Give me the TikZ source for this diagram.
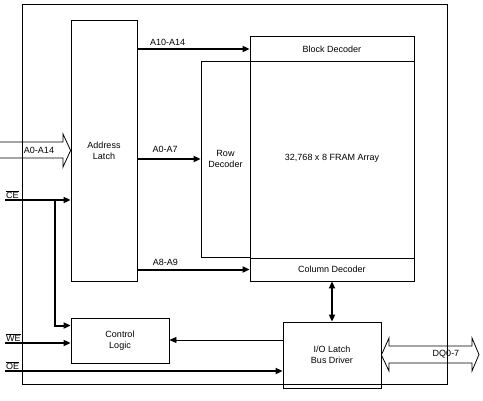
\documentclass[tikz,border=0pt]{standalone}
\usepackage{fontspec}
\setmainfont{Liberation Sans}
\usetikzlibrary{arrows.meta}

\begin{document}
\begin{tikzpicture}[x=1pt,y=-1pt,
    block/.style={draw, line width=0.8pt, inner sep=0pt, align=center, font=\fontsize{9}{11}\selectfont},
    bus/.style={line width=2pt, -{Triangle[length=7pt,width=6pt]}},
    sig/.style={line width=0.8pt, -{Triangle[length=7pt,width=6pt]}},
    lbl/.style={font=\fontsize{9}{11}\selectfont, inner sep=1pt}]
    \useasboundingbox (0,0) rectangle (483,400);

    % Draw the chip outline
    \node[draw, line width=0.8pt, minimum width=425pt, minimum height=380pt] (chip) at (234.5,194) {};

    % Draw the blocks
    \node[block, minimum width=66pt, minimum height=261pt] (latch) at (104,150.5) {Address\\Latch};
    \node[block, minimum width=49pt, minimum height=196pt] (row) at (225.5,159) {Row\\Decoder};
    \node[block, minimum width=164pt, minimum height=245pt] (array) at (332,158.5) {32,768 x 8 FRAM Array};
    \node[block, minimum width=164pt, minimum height=25pt] (blockdec) at (332,49) {Block Decoder};
    \node[block, minimum width=164pt, minimum height=23pt] (coldec) at (332,269.5) {Column Decoder};
    \node[block, minimum width=98pt, minimum height=45pt] (ctrl) at (120,340.5) {Control\\Logic};
    \node[block, minimum width=98pt, minimum height=66pt] (io) at (332,355) {I/O Latch\\Bus Driver};

    % Draw the address buses
    \draw[line width=0.8pt] (0,142) -- (63,142) -- (63,134) -- (latch.west) -- (63,167) -- (63,158) -- (0,158);
    \node[lbl] (addrlbl) at (39,150.5) {A0-A14};
    \draw[bus] (latch.east |- blockdec) -- (blockdec.west) node[lbl, above=1pt, pos=0.27] {A10-A14};
    \draw[bus] (latch.east |- row) -- (row.west) node[lbl, above=4pt, pos=0.44] {A0-A7};
    \draw[bus] (latch.east |- coldec) -- (coldec.west) node[lbl, above=2pt, pos=0.25] {A8-A9};

    % Draw the control inputs
    \coordinate (ce) at (5,200);
    \coordinate (cebr) at (55,200);
    \coordinate (we) at (5,343);
    \coordinate (oe) at (5,371);
    \coordinate (cectl) at ([yshift=15pt]ctrl.west);
    \coordinate (iofb) at ([yshift=15pt]io.west);
    \draw[bus] (ce) -- (ce -| latch.west);
    \draw[bus] (cebr) |- (cectl);
    \draw[bus] (we) -- (we -| ctrl.west);
    \draw[bus] (oe) -- (oe -| io.west);
    \node[lbl, anchor=south west] (celbl) at (ce) {$\overline{\mbox{CE}}$};
    \node[lbl, anchor=south west] (welbl) at (we) {$\overline{\mbox{WE}}$};
    \node[lbl, anchor=south west] (oelbl) at (oe) {$\overline{\mbox{OE}}$};
    \draw[sig] (iofb) -- (iofb -| ctrl.east);

    % Draw the data path
    \draw[bus, {Triangle[length=7pt,width=6pt]}-{Triangle[length=7pt,width=6pt]}] (coldec.south) -- (io.north);
    \draw[line width=0.8pt] (io.east) -- (389,338) -- (389,346) -- (472,346) -- (472,338) -- (479,354.5)
        -- (472,371) -- (472,363) -- (389,363) -- (389,371) -- cycle;
    \node[lbl] (dqlbl) at (446,354.5) {DQ0-7};
\end{tikzpicture}
\end{document}
